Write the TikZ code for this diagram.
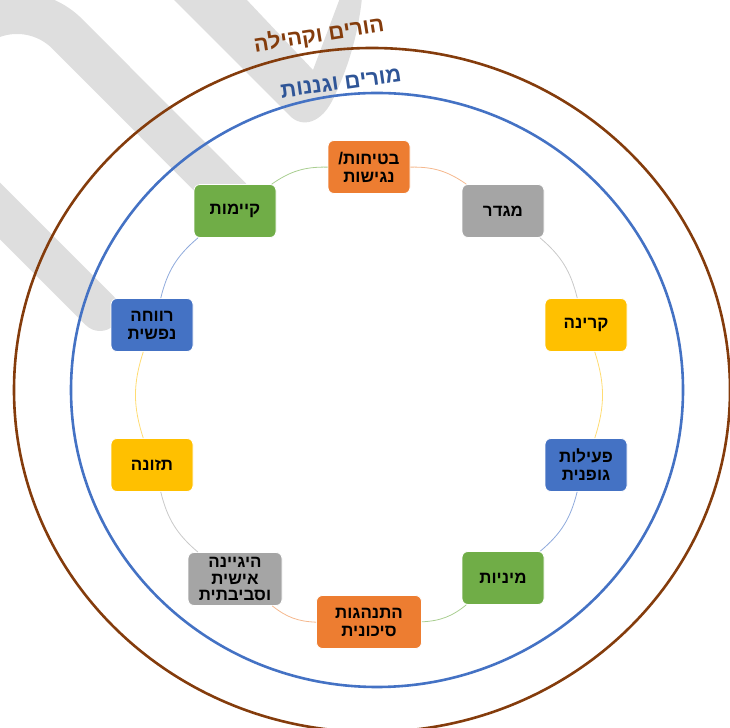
\documentclass[tikz,border=0pt]{standalone}
\usepackage{fontspec}
\newfontfamily\hebfont[Script=Hebrew]{Liberation Sans}
\TeXXeTstate=1
\definecolor{orng}{HTML}{ED7D31}
\definecolor{gry}{HTML}{A5A5A5}
\definecolor{yllw}{HTML}{FFC000}
\definecolor{blu}{HTML}{4472C4}
\definecolor{grn}{HTML}{70AD47}
\definecolor{brwn}{HTML}{843C0C}
\definecolor{darkblu}{HTML}{2F5597}
\definecolor{swoosh}{HTML}{DEDEDE}
\newcommand{\heb}[1]{\beginR #1\endR}
\tikzstyle{topic} = [draw=white, line width=0.8bp, rounded corners=6bp, minimum width=82bp, minimum height=53bp, inner sep=1bp, align=center, text=black, font=\hebfont\bfseries\fontsize{17}{18}\selectfont]
\tikzstyle{ring} = [line width=2.6bp]
\tikzstyle{link} = [line width=0.8bp]
\tikzstyle{band} = [swoosh, line cap=round]
\tikzstyle{title} = [inner sep=0pt, font=\hebfont\bfseries\fontsize{22}{24}\selectfont]

\begin{document}
\begin{tikzpicture}[x=1bp, y=1bp]
\useasboundingbox (0,0) rectangle (730,728);
\clip (0,0) rectangle (730,728);

% background swoosh
\draw [band, line width=42bp] (-54,644) arc [start angle=180, end angle=45, radius=71] -- (230,531);
\draw [band, line width=40bp] (-60,577) -- (100,417);
\fill [swoosh] (172,730) -- (290,612) .. controls (302,600) and (322,604) .. (334,631) .. controls (348,660) and (358,693) .. (362,730) -- (340,730) -- (313,658) -- (245,730) -- cycle;

% circles
\draw [ring, brwn] (372,338) ellipse [x radius=358, y radius=342];
\draw [ring, blu] (377,338) ellipse [x radius=306, y radius=297];

\node [title, rotate=9, text=brwn] (parents) at (319,693) {\heb{הורים וקהילה}};
\node [title, rotate=8, text=darkblu] (teachers) at (341,645) {\heb{מורים וגננות}};

% topics
\node [topic, fill=orng] (safety) at (369,561) {\heb{בטיחות/}\\\heb{נגישות}};
\node [topic, fill=gry] (gender) at (503,517) {\heb{מגדר}};
\node [topic, fill=yllw] (radiation) at (586,403) {\heb{קרינה}};
\node [topic, fill=blu] (activity) at (586,263) {\heb{פעילות}\\\heb{גופנית}};
\node [topic, fill=grn] (sexuality) at (503,150) {\heb{מיניות}};
\node [topic, fill=orng, minimum width=105bp] (risk) at (369,106) {\heb{התנהגות}\\\heb{סיכונית}};
\node [topic, fill=gry, minimum width=94bp, font=\hebfont\bfseries\fontsize{17}{16.5}\selectfont] (hygiene) at (235,149) {\heb{היגיינה}\\\heb{אישית}\\\heb{וסביבתית}};
\node [topic, fill=yllw] (nutrition) at (152,263) {\heb{תזונה}};
\node [topic, fill=blu] (wellbeing) at (152,403) {\heb{רווחה}\\\heb{נפשית}};
\node [topic, fill=grn] (sustain) at (235,517) {\heb{קיימות}};

\draw [link, orng!55] (safety) to [bend left=18] (gender);
\draw [link, gry!60] (gender) to [bend left=18] (radiation);
\draw [link, yllw!55] (radiation) to [bend left=18] (activity);
\draw [link, blu!60] (activity) to [bend left=18] (sexuality);
\draw [link, grn!60] (sexuality) to [bend left=18] (risk);
\draw [link, orng!55] (risk) to [bend left=18] (hygiene);
\draw [link, gry!60] (hygiene) to [bend left=18] (nutrition);
\draw [link, yllw!55] (nutrition) to [bend left=18] (wellbeing);
\draw [link, blu!60] (wellbeing) to [bend left=18] (sustain);
\draw [link, grn!60] (sustain) to [bend left=18] (safety);

\end{tikzpicture}
\end{document}
